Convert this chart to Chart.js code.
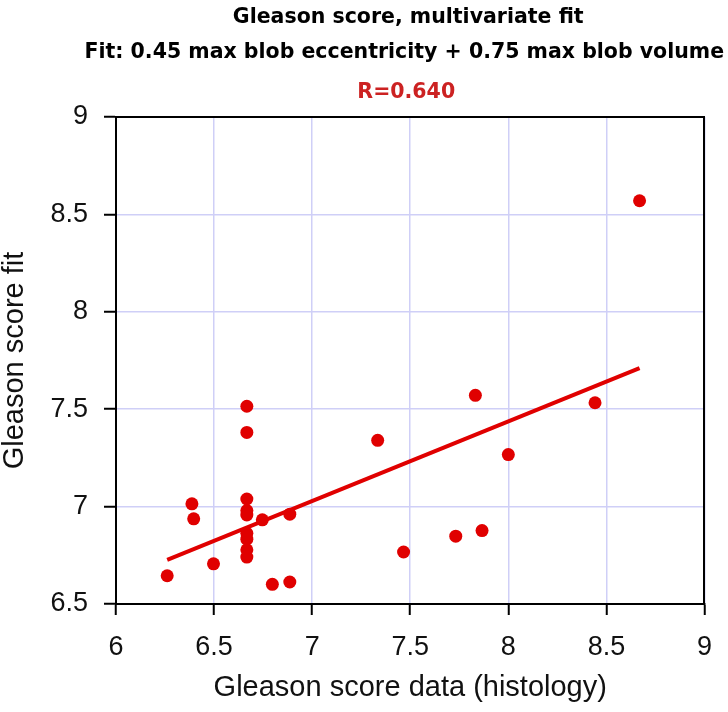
<!DOCTYPE html>
<html>
<head>
<meta charset="utf-8">
<script src="https://cdn.jsdelivr.net/npm/chart.js@4"></script>
<style>
  html, body { margin: 0; padding: 0; background: #fff; }
  canvas { display: block; }
</style>
</head>
<body>
<canvas id="chart" width="728" height="712"></canvas>
<script>
// Gleason score: histology vs multivariate fit

const histology = [
  6.261, 6.387, 6.396, 6.497,
  6.667, 6.667, 6.667, 6.667, 6.667, 6.667, 6.667, 6.667, 6.667,
  6.746, 6.797, 6.886, 6.886,
  7.334, 7.466, 7.732, 7.832, 7.866, 8.0, 8.442, 8.669,
];
const fitScore = [
  6.645, 7.014, 6.937, 6.706,
  7.515, 7.381, 7.039, 6.980, 6.957, 6.863, 6.833, 6.778, 6.741,
  6.932, 6.601, 6.961, 6.613,
  7.340, 6.767, 6.848, 7.571, 6.877, 7.267, 7.533, 8.570,
];
const lineX = [6.261, 8.669];
const lineY = [6.727, 7.711];

const titleText = [
  "Gleason score, multivariate fit",
  "Fit: 0.45 max blob eccentricity + 0.75 max blob volume",
];
const rText = "R=0.640";
const xTitle = "Gleason score data (histology)";
const yTitle = "Gleason score fit";

const RED = "#e00000";
const GRID = "#cfcff7";
const AXIS_FONT = "'Liberation Sans', Arial, Helvetica, sans-serif";

const points = histology.map((x, i) => ({ x, y: fitScore[i] }));
const fitLine = lineX.map((x, i) => ({ x, y: lineY[i] }));

const headerPlugin = {
  id: "header",
  afterDraw(chart) {
    const { ctx, chartArea } = chart;
    const cx = (chartArea.left + chartArea.right) / 2 - 6;
    ctx.save();
    ctx.textAlign = "center";
    ctx.textBaseline = "alphabetic";
    ctx.font = "bold 20.5px 'DejaVu Sans', sans-serif";
    ctx.fillStyle = "#000";
    ctx.fillText(titleText[0], cx + 4, 23);
    ctx.fillText(titleText[1], cx, 58);
    ctx.fillStyle = "#cc2222";
    ctx.fillText(rText, cx + 2, 98);
    ctx.restore();
  },
};

const plainNumber = (value) => String(value);

const ctx = document.getElementById("chart");

new Chart(ctx, {
  type: "scatter",
  data: {
    datasets: [
      {
        label: "data",
        data: points,
        backgroundColor: RED,
        borderColor: RED,
        pointRadius: 6.5,
        pointBorderWidth: 0,
      },
      {
        type: "line",
        label: "fit",
        data: fitLine,
        borderColor: RED,
        borderWidth: 4,
        pointRadius: 0,
        fill: false,
        tension: 0,
      },
    ],
  },
  options: {
    responsive: false,
    animation: false,
    devicePixelRatio: 1,
    layout: {
      padding: { top: 117, right: 19, left: 0, bottom: 0 },
    },
    plugins: {
      legend: { display: false },
      tooltip: { enabled: false },
    },
    scales: {
      x: {
        type: "linear",
        position: "bottom",
        min: 6,
        max: 9,
        ticks: {
          stepSize: 0.5,
          color: "#111",
          padding: 16,
          maxRotation: 0,
          font: { family: AXIS_FONT, size: 27 },
          callback: plainNumber,
        },
        grid: {
          color: GRID,
          lineWidth: 1.5,
          tickColor: "#000",
          tickLength: 11,
          tickWidth: 2,
        },
        border: { color: "#000", width: 2 },
        title: {
          display: true,
          text: xTitle,
          color: "#111",
          font: { family: AXIS_FONT, size: 29, lineHeight: 1 },
          padding: { top: 0, bottom: 10 },
        },
        afterFit: (scale) => {
          scale.height = 108;
        },
      },
      y: {
        type: "linear",
        position: "left",
        min: 6.5,
        max: 9,
        ticks: {
          stepSize: 0.5,
          color: "#111",
          padding: 16,
          font: { family: AXIS_FONT, size: 27 },
          callback: plainNumber,
        },
        grid: {
          color: GRID,
          lineWidth: 1.5,
          tickColor: "#000",
          tickLength: 12,
          tickWidth: 2,
        },
        border: { color: "#000", width: 2 },
        title: {
          display: true,
          text: yTitle,
          color: "#111",
          font: { family: AXIS_FONT, size: 29, lineHeight: 1 },
          padding: { top: 0, bottom: 0 },
        },
        afterFit: (scale) => {
          scale.width = 116;
        },
      },
      xTop: {
        type: "linear",
        position: "top",
        min: 6,
        max: 9,
        ticks: { display: false },
        grid: { drawOnChartArea: false, drawTicks: false },
        border: { color: "#000", width: 2 },
        afterFit: (scale) => {
          scale.height = 0;
        },
      },
      yRight: {
        type: "linear",
        position: "right",
        min: 6.5,
        max: 9,
        ticks: { display: false },
        grid: { drawOnChartArea: false, drawTicks: false },
        border: { color: "#000", width: 2 },
        afterFit: (scale) => {
          scale.width = 0;
        },
      },
    },
  },
  plugins: [headerPlugin],
});
</script>
</body>
</html>
